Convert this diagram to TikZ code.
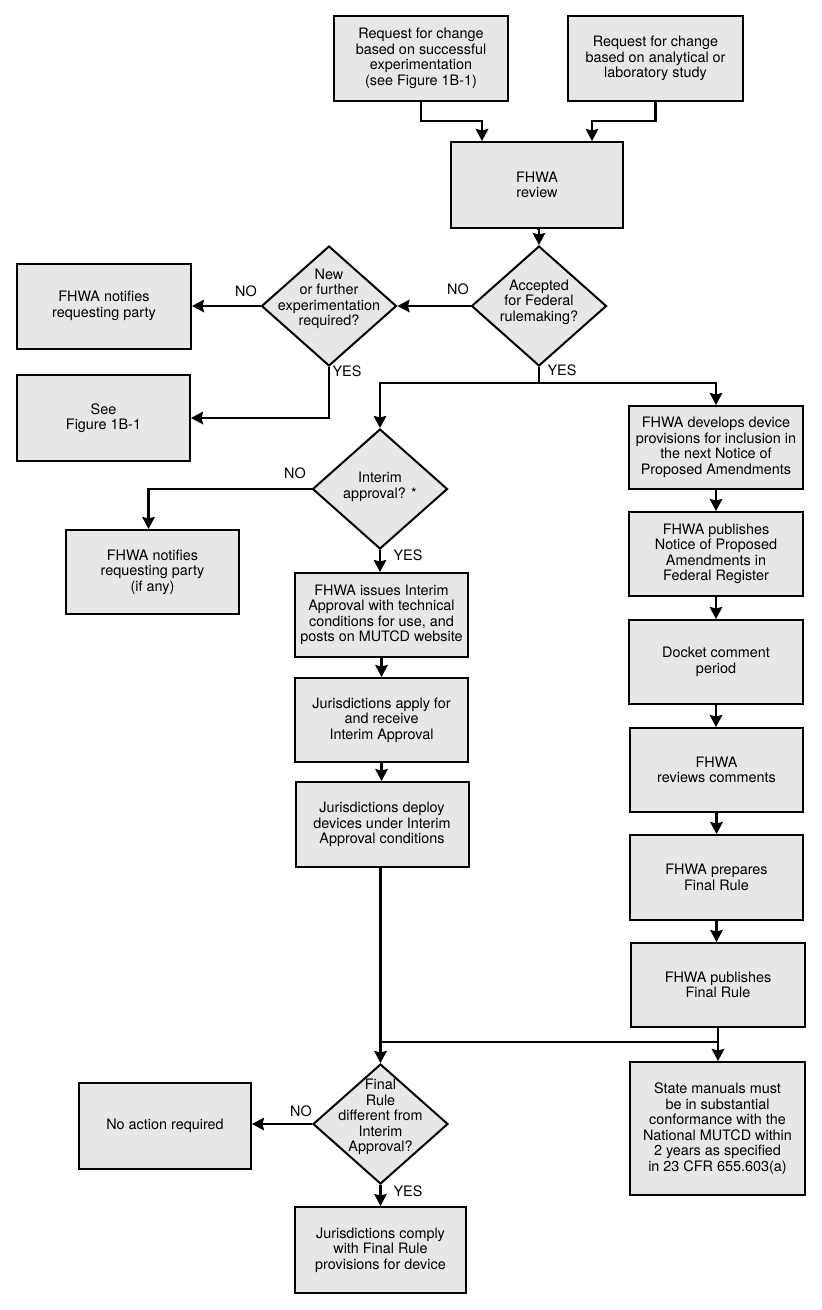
\documentclass[tikz,border=0pt]{standalone}
\usepackage{fontspec}
\setmainfont{TeX Gyre Heros}
\usetikzlibrary{shapes.geometric,arrows.meta}
\definecolor{boxfill}{RGB}{230,231,233}
\begin{document}
\begin{tikzpicture}[x=1pt,y=-1pt,
  txt/.style={font=\fontsize{14.4}{15.5}\selectfont},
  box/.style={txt, draw, line width=2pt, fill=boxfill, minimum width=174pt, minimum height=85pt, inner sep=0pt, align=center},
  dia/.style={draw, line width=2pt, fill=boxfill, diamond, minimum width=135pt, minimum height=120pt, inner sep=0pt},
  dtext/.style={txt, align=center, inner sep=0pt},
  lab/.style={txt, inner sep=0pt},
  conn/.style={line width=2.3pt, -{Stealth[length=12pt,width=12.5pt,inset=1.5pt]}},
  plainline/.style={line width=2.3pt}]
\useasboundingbox (0,0) rectangle (822,1310);

% top
\node[box] (req1) at (421,58.5) {Request for change\\based on successful\\experimentation\\(see Figure 1B-1)};
\node[box, minimum width=175pt] (req2) at (655.5,58.5) {Request for change\\based on analytical or\\laboratory study};
\node[box, minimum width=172pt, minimum height=86pt] (review) at (537,185) {FHWA\\review};

% decisions row
\node[dia] (acc) at (539,306) {};
\node[dtext] at ([yshift=4pt]acc.center) {Accepted\\for Federal\\rulemaking?};
\node[dia] (newexp) at (329,306) {};
\node[dtext] at ([yshift=7pt]newexp.center) {New\\or further\\experimentation\\required?};
\node[box] (notify1) at (104,306) {FHWA notifies\\requesting party};
\node[box, minimum width=173pt, minimum height=86pt] (seefig) at (103.5,418) {See\\Figure 1B-1};

% middle column
\node[dia] (interim) at (380,489) {};
\node[dtext] at ([yshift=2pt]interim.center) {Interim\\approval? *};
\node[box, minimum width=173pt, minimum height=84pt] (notify2) at (152.5,572) {FHWA notifies\\requesting party\\(if any)};
\node[box, minimum width=173pt, minimum height=84pt] (issues) at (381.5,615) {FHWA issues Interim\\Approval with technical\\conditions for use, and\\posts on MUTCD website};
\node[box, minimum width=173pt, minimum height=84pt] (apply) at (381.5,720) {Jurisdictions apply for\\and receive\\Interim Approval};
\node[box, minimum width=173pt] (deploy) at (382,824.5) {Jurisdictions deploy\\devices under Interim\\Approval conditions};

% right column
\node[box, minimum height=83pt] (develops) at (716,447.5) {FHWA develops device\\provisions for inclusion in\\the next Notice of\\Proposed Amendments};
\node[box, minimum height=84pt] (pubnpa) at (716,554) {FHWA publishes\\Notice of Proposed\\Amendments in\\Federal Register};
\node[box, minimum height=84pt] (docket) at (716,662) {Docket comment\\period};
\node[box, minimum width=173pt, minimum height=84pt] (reviews) at (716.5,770) {FHWA\\reviews comments};
\node[box, minimum width=173pt] (prepares) at (716.5,877.5) {FHWA prepares\\Final Rule};
\node[box, minimum height=84pt] (pubfr) at (718,985) {FHWA publishes\\Final Rule};
\node[box, minimum width=175pt, minimum height=133pt] (state) at (717.5,1128.5) {State manuals must\\be in substantial\\conformance with the\\National MUTCD within\\2 years as specified\\in 23 CFR 655.603(a)};

% bottom
\node[dia] (final) at (380.5,1124) {};
\node[dtext] at ([yshift=7pt]final.center) {Final\\Rule\\different from\\Interim\\Approval?};
\node[box, minimum width=172pt, minimum height=86pt] (noaction) at (165,1126) {No action required};
\node[box, minimum width=171pt, minimum height=86pt] (comply) at (380.5,1250) {Jurisdictions comply\\with Final Rule\\provisions for device};

% connectors
\draw[conn] (req1.south) -- ++(0,19) -| ([xshift=-55pt]review.north);
\draw[conn] (req2.south) -- ++(0,19) -| ([xshift=55pt]review.north);
\draw[conn] (review.south) -- (review.south -| acc.north) -- (acc.north);
\draw[conn] (acc.west) -- (newexp.east);
\draw[conn] (newexp.west) -- (newexp.west -| notify1.east);
\draw[conn] (newexp.south) |- (seefig.east);
\coordinate (split) at (539,383);
\draw[plainline] (acc.south) -- (split);
\draw[conn] (split) -| (interim.north);
\draw[conn] (split) -| (develops.north);
\draw[conn] (interim.west) -| ([xshift=-4pt]notify2.north);
\draw[conn] (interim.south) -- (interim.south |- issues.north);
\draw[conn] (issues.south) -- (issues.south |- apply.north);
\draw[conn] (apply.south) -- (apply.south |- deploy.north);
\draw[conn] (develops.south) -- (develops.south |- pubnpa.north);
\draw[conn] (pubnpa.south) -- (pubnpa.south |- docket.north);
\draw[conn] (docket.south) -- (docket.south |- reviews.north);
\draw[conn] (reviews.south) -- (reviews.south |- prepares.north);
\draw[conn] (prepares.south) -- (prepares.south |- pubfr.north);
\draw[conn] (pubfr.south) -- (pubfr.south |- state.north);
\coordinate (join) at (380.5,1042);
\draw[plainline] (pubfr.south |- join) -- (join);
\draw[conn] (final.north |- deploy.south) -- (final.north);
\draw[conn] (final.west) -- (final.west -| noaction.east);
\draw[conn] (final.south) -- (final.south |- comply.north);

% labels
\node[lab] (l1) at (458,289) {NO};
\node[lab] (l2) at (246,291) {NO};
\node[lab] (l3) at (347,371) {YES};
\node[lab] (l4) at (562,370) {YES};
\node[lab] (l5) at (295,473) {NO};
\node[lab] (l6) at (408,555) {YES};
\node[lab] (l7) at (301,1111) {NO};
\node[lab] (l8) at (408,1191) {YES};
\end{tikzpicture}
\end{document}
